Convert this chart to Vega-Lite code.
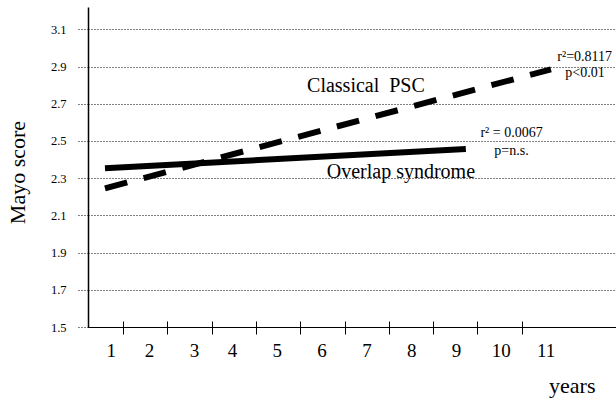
{
  "$schema": "https://vega.github.io/schema/vega-lite/v6.json",
  "width": 528,
  "height": 320,
  "autosize": "none",
  "padding": {"left": 88, "top": 7, "right": 0, "bottom": 73},
  "config": {
    "view": {"stroke": null},
    "font": "Liberation Serif",
    "axis": {"labelFont": "Liberation Serif", "titleFont": "Liberation Serif", "labelColor": "black", "titleColor": "black", "titleFontWeight": "normal"}
  },
  "datasets": {
    "lines": [
      {"series": "Overlap syndrome", "year": 1.165, "score": 2.353},
      {"series": "Overlap syndrome", "year": 9.22, "score": 2.457},
      {"series": "Classical PSC", "year": 1.165, "score": 2.245},
      {"series": "Classical PSC", "year": 11.12, "score": 2.885}
    ],
    "bigLabels": [
      {"label": "Classical\u00a0 PSC", "year": 6.99, "score": 2.763},
      {"label": "Overlap syndrome", "year": 7.77, "score": 2.301}
    ],
    "smallLabels": [
      {"label": "r² = 0.0067", "year": 10.24, "score": 2.523},
      {"label": "p=n.s.", "year": 10.24, "score": 2.4245},
      {"label": "r²=0.8117", "year": 11.873, "score": 2.931},
      {"label": "p<0.01", "year": 11.88, "score": 2.842}
    ]
  },
  "resolve": {"axis": {"x": "independent"}},
  "encoding": {
    "y": {
      "field": "score", "type": "quantitative",
      "scale": {"domain": [1.5, 3.22], "nice": false, "zero": false},
      "axis": {
        "values": [1.5, 1.7, 1.9, 2.1, 2.3, 2.5, 2.7, 2.9, 3.1],
        "format": ".1f",
        "labelOverlap": false, "labelFlush": false,
        "grid": true, "gridDash": [1, 2], "gridColor": "black", "gridWidth": 1, "gridOpacity": 1,
        "tickDash": [1, 2], "tickColor": "black", "tickSize": 10,
        "labelFontSize": 12.5, "labelPadding": 12,
        "domainColor": "black", "domainWidth": 1.5,
        "title": "Mayo score", "titleFontSize": 22, "titleAngle": 270,
        "titleX": -64, "titleY": 165, "titleAlign": "center", "titleBaseline": "alphabetic"
      }
    }
  },
  "layer": [
    {
      "data": {"name": "lines"},
      "transform": [{"filter": "datum.series === 'Overlap syndrome'"}],
      "mark": {"type": "line", "color": "black", "strokeWidth": 6, "strokeCap": "butt"},
      "encoding": {
        "x": {
          "field": "year", "type": "quantitative",
          "scale": {"domain": [0.786, 12.572], "nice": false, "zero": false},
          "axis": {
            "orient": "bottom",
            "values": [1.292, 2.147, 3.152, 4, 5, 6, 7, 8, 9, 10, 11],
            "labelExpr": "round(datum.value)",
            "ticks": false, "tickSize": 0, "grid": false,
            "domainColor": "black", "domainWidth": 1, "zindex": 1,
            "labelFontSize": 19, "labelPadding": 14, "labelFlush": false, "labelOverlap": false,
            "title": "years", "titleFontSize": 22, "titleAlign": "right", "titleAnchor": null,
            "titleX": 507, "titleY": 65, "titleBaseline": "alphabetic"
          }
        }
      }
    },
    {
      "data": {"name": "lines"},
      "transform": [{"filter": "datum.series === 'Classical PSC'"}],
      "mark": {"type": "line", "color": "black", "strokeWidth": 6, "strokeCap": "butt", "strokeDash": [23, 17]},
      "encoding": {
        "x": {
          "field": "year", "type": "quantitative",
          "axis": {
            "orient": "bottom",
            "values": [1.574, 2.556, 3.561, 4.536, 5.525, 6.516, 7.505, 8.494, 9.476, 10.467],
            "labels": false, "domain": false, "grid": false,
            "tickSize": 13, "tickColor": "black", "tickWidth": 1, "offset": -6,
            "title": null
          }
        }
      }
    },
    {
      "data": {"name": "bigLabels"},
      "mark": {"type": "text", "fontSize": 20, "font": "Liberation Serif", "align": "center", "baseline": "alphabetic", "color": "black"},
      "encoding": {
        "x": {"field": "year", "type": "quantitative", "axis": null},
        "text": {"field": "label"}
      }
    },
    {
      "data": {"name": "smallLabels"},
      "mark": {"type": "text", "fontSize": 14, "font": "Liberation Serif", "align": "center", "baseline": "alphabetic", "color": "black"},
      "encoding": {
        "x": {"field": "year", "type": "quantitative", "axis": null},
        "text": {"field": "label"}
      }
    }
  ]
}
